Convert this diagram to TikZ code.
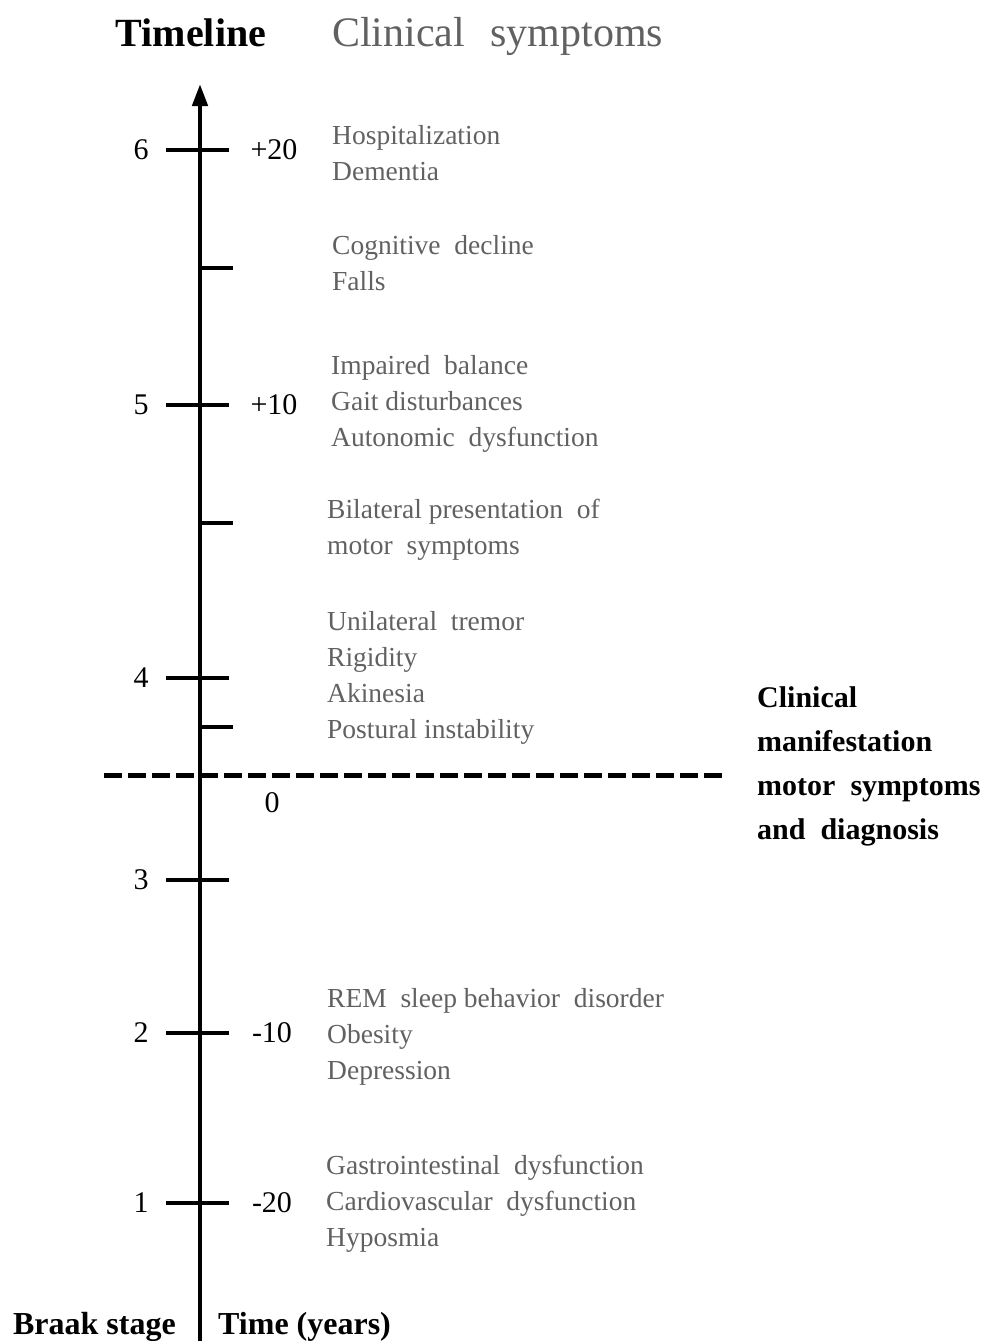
\documentclass[tikz,border=0pt]{standalone}
\usepackage{fontspec}
\setmainfont{Liberation Serif}
\usetikzlibrary{positioning, arrows.meta}
\tikzset{
    axisline/.style = {line width=4.5pt, -{Triangle[length=22pt,width=15pt]}},
    tickline/.style = {line width=4.5pt},
    cutline/.style = {line width=5pt, dash pattern=on 18pt off 6pt},
    header/.style = {inner sep=0pt, font=\fontsize{42}{42}\selectfont},
    stagenum/.style = {inner sep=0pt, font=\fontsize{30}{30}\selectfont},
    timenum/.style = {inner sep=0pt, font=\fontsize{30}{30}\selectfont},
    symptoms/.style = {inner sep=0pt, anchor=north west, align=left,
        text=black!62, font=\fontsize{27.5}{36}\selectfont},
    footlabel/.style = {inner sep=0pt, font=\bfseries\fontsize{32}{32}\selectfont},
}

\begin{document}
\begin{tikzpicture}[x=1pt,y=-1pt]
    \useasboundingbox (0,0) rectangle (992,1341);
    % headers
    \node (timeline) [header, anchor=base, font=\bfseries\fontsize{40}{40}\selectfont] at (191,46) {Timeline};
    \node (clinhead) [header, anchor=base west, text=black!62] at (332,46) {Clinical\hspace{0.6em}symptoms};
    % axis
    \coordinate (axbottom) at (200,1341);
    \coordinate (axtop) at (200,84);
    \draw[axisline] (axbottom) -- (axtop);
    % major ticks with Braak stage and time
    \foreach \st/\yy in {6/150, 5/405, 4/678, 3/880, 2/1033, 1/1203}{
        \coordinate (tl\st) at (166,\yy);
        \coordinate (tr\st) at (229,\yy);
        \draw[tickline] (tl\st) -- (tr\st);
        \node (stage\st) [stagenum] at (141,\yy) {\st};
    }
    % minor ticks
    \foreach \mi/\yy in {a/268, b/523, c/727}{
        \coordinate (ml\mi) at (200,\yy);
        \coordinate (mr\mi) at (233,\yy);
        \draw[tickline] (ml\mi) -- (mr\mi);
    }
    \node (tp20) [timenum] at (274,150) {+20};
    \node (tp10) [timenum] at (274,405) {+10};
    \node (t0) [timenum] at (272,803) {0};
    \node (tm10) [timenum] at (272,1033) {-10};
    \node (tm20) [timenum] at (272,1203) {-20};
    % diagnosis line
    \coordinate (cutl) at (104,775);
    \coordinate (cutr) at (724,775);
    \draw[cutline] (cutl) -- (cutr);
    \node (diag) [anchor=north west, align=left, inner sep=0pt,
        font=\bfseries\fontsize{30}{44}\selectfont] at (757,686)
        {Clinical\\manifestation\\motor\ \ symptoms\\and\ \ diagnosis};
    % symptoms
    \node (sym6) [symptoms] at (332,125) {Hospitalization\\Dementia};
    \node (sym56) [symptoms] at (332,235) {Cognitive\ \ decline\\Falls};
    \node (sym5) [symptoms] at (331,355) {Impaired\ \ balance\\Gait disturbances\\Autonomic\ \ dysfunction};
    \node (sym45) [symptoms] at (327,499) {Bilateral presentation\ \ of\\motor\ \ symptoms};
    \node (sym4) [symptoms] at (327,611) {Unilateral\ \ tremor\\Rigidity\\Akinesia\\Postural\ instability};
    \node (sym2) [symptoms] at (327,988) {REM\ \ sleep behavior\ \ disorder\\Obesity\\Depression};
    \node (sym1) [symptoms] at (326,1155) {Gastrointestinal\ \ dysfunction\\Cardiovascular\ \ dysfunction\\Hyposmia};
    % axis captions
    \node (braak) [footlabel, anchor=base east] at (176,1334) {Braak stage};
    \node (years) [footlabel, anchor=base west] at (218,1334) {Time (years)};
\end{tikzpicture}
\end{document}
